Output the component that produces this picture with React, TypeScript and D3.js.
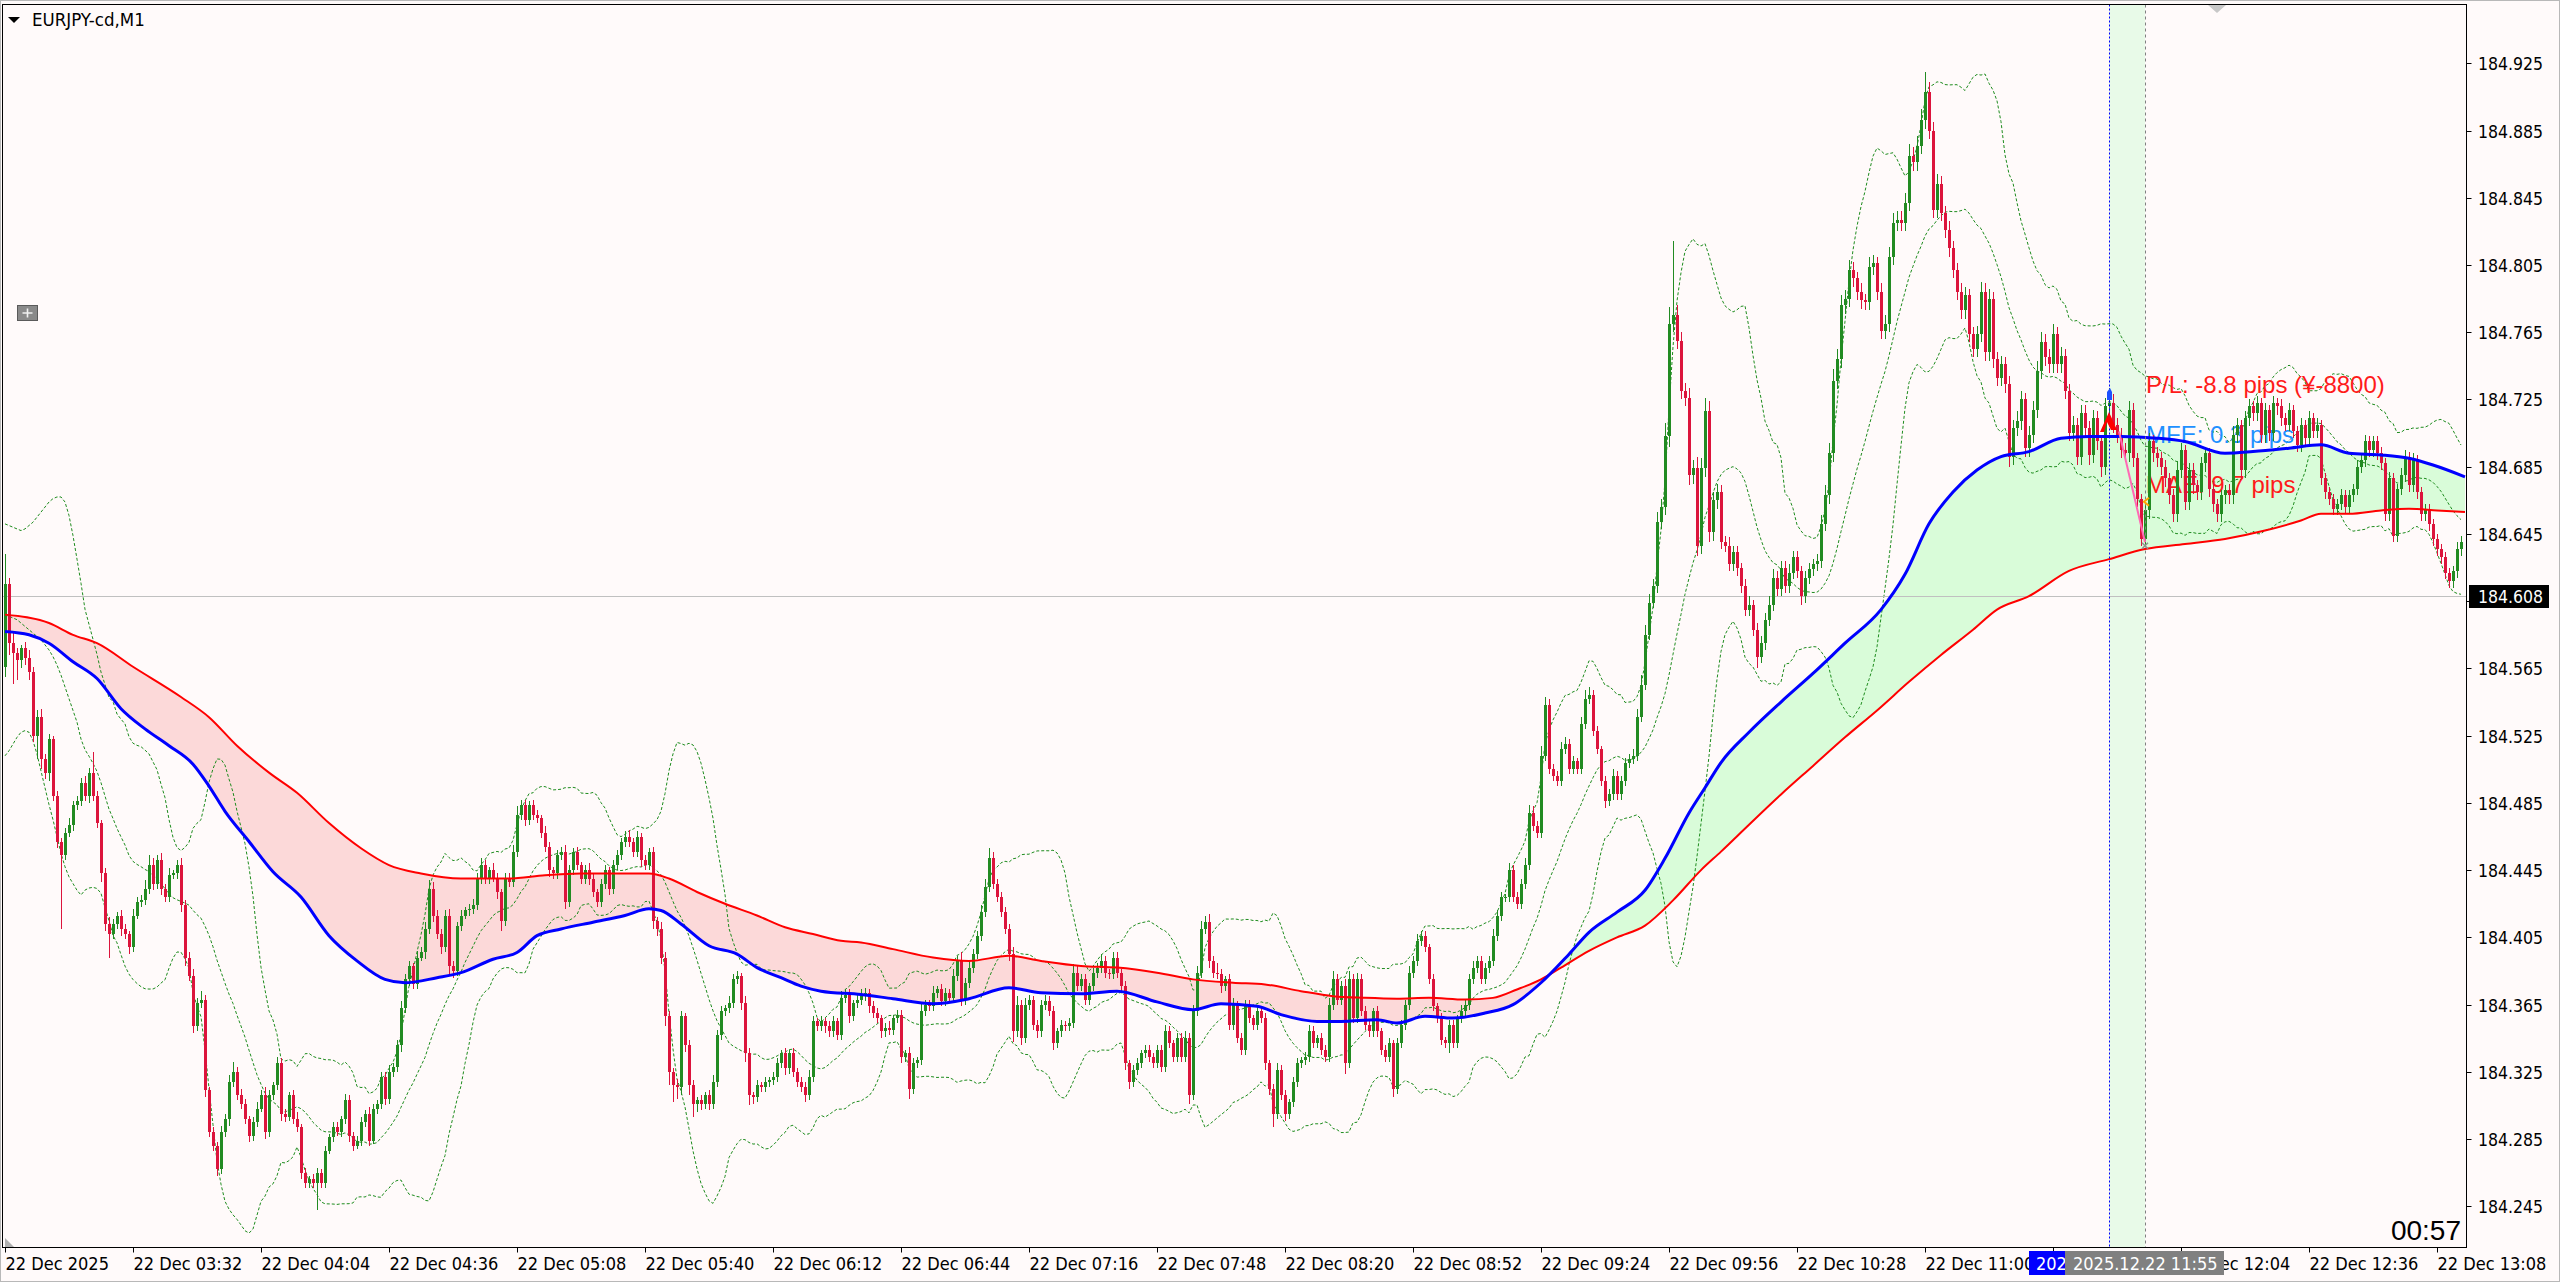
import React, { useEffect } from 'react';
import * as d3 from 'd3';

// ---------- DATA (prices in thousandths above 184.000) ----------
const BASE = 184;
const FIRST_OPEN = 566;
const closes = [
615,580,574,570,577,571,563,525,536,511,
503,523,489,462,454,467,472,484,486,497,
489,503,489,473,443,413,407,413,418,410,
407,399,418,426,427,434,448,437,451,434,
429,442,443,448,424,393,382,352,366,368,
314,289,281,267,289,297,319,325,311,306,
297,287,295,303,311,289,311,317,330,300,
298,311,297,292,265,259,261,259,265,259,
278,286,292,289,297,308,287,281,284,295,
300,284,303,306,322,309,325,328,341,363,
380,388,377,393,396,410,434,418,407,399,
418,388,385,412,418,421,422,424,440,448,
440,445,440,432,415,440,438,456,478,484,
475,484,478,476,467,459,445,443,454,456,
426,445,456,448,440,445,440,432,426,437,
445,434,448,454,462,465,462,456,465,451,
448,456,415,410,393,358,325,317,316,358,
341,317,306,308,306,311,306,319,347,361,
363,366,380,382,366,336,311,310,317,316,
319,320,322,330,336,327,336,325,319,316,
311,322,355,352,355,352,349,355,347,369,
371,358,366,368,370,372,364,360,357,349,
351,350,357,359,334,336,315,330,332,361,
365,364,372,374,367,372,369,382,391,368,
378,387,395,406,420,435,452,437,429,420,
410,395,349,365,345,365,368,353,349,365,
367,361,342,349,353,352,354,384,376,380,
368,376,384,387,391,384,383,393,384,376,
330,319,326,330,336,338,334,330,338,328,
349,342,334,345,334,345,311,361,384,410,
414,391,384,383,376,380,353,365,345,338,
365,357,353,361,357,330,315,300,326,311,
300,307,319,330,332,334,349,342,345,338,
334,365,380,368,376,330,380,357,380,361,
353,349,361,349,338,334,342,315,342,353,
365,384,391,403,406,399,380,364,357,344,
342,353,342,357,361,365,380,387,391,380,
387,391,406,418,429,429,445,429,425,437,
448,479,471,467,513,543,505,501,498,517,
520,505,510,505,532,547,549,528,517,498,
486,490,501,490,498,509,511,513,536,555,
585,604,614,652,661,703,770,775,760,730,
726,680,684,638,684,718,646,665,670,640,
638,627,634,625,614,600,603,588,572,580,
594,603,619,612,625,614,622,631,623,608,
619,624,627,629,651,668,693,736,749,781,
785,802,797,789,784,783,804,806,789,766,
770,810,830,832,830,842,870,866,876,891,
908,885,838,853,836,826,815,802,789,778,
787,764,755,764,789,753,785,749,738,746,
734,691,708,712,725,696,704,719,742,759,
750,746,764,746,751,730,705,710,691,717,
708,692,714,700,685,721,723,710,704,695,
693,719,690,666,642,659,700,693,690,685,
678,668,657,683,695,664,683,674,670,687,
693,672,663,657,668,671,668,704,710,683,
714,721,717,723,704,719,705,723,721,714,
710,719,706,698,710,702,714,706,710,678,
670,666,660,663,668,661,668,672,685,689,
700,695,700,693,687,657,678,644,672,680,
691,674,689,670,657,660,651,642,636,631,
622,617,623,636,640
];
const wickUp = [
18,4,6,3,2,4,5,3,4,5, 3,3,2,3,2,3,4,2,3,3, 4,3,12,3,2,3,4,3,2,3, 3,2,4,3,3,5,6,4,3,4,
3,4,2,3,4,3,3,4,3,5, 3,2,3,2,4,3,4,6,3,4, 3,2,3,4,3,5,3,2,4,3, 3,2,3,4,2,3,2,3,3,2,
3,2,3,3,2,4,3,2,3,3, 2,4,3,2,3,3,4,2,3,4, 3,3,2,4,3,4,5,4,3,3, 3,4,3,2,3,2,3,4,3,4,
3,2,4,3,2,3,3,4,5,3, 3,2,3,3,2,4,3,2,3,3, 4,3,2,3,2,3,4,3,2,3, 3,2,3,3,2,3,4,2,3,2,
3,2,3,2,4,3,3,2,4,3, 2,3,3,2,3,2,3,4,3,3, 2,4,3,3,2,4,3,2,3,2, 3,2,3,3,2,3,2,3,2,3,
3,4,3,2,3,2,3,3,2,4, 3,3,2,3,4,3,2,3,3,2, 3,4,2,3,3,2,4,3,2,5, 3,3,4,2,3,3,2,4,3,5,
3,4,3,3,4,5,6,4,3,3, 3,3,4,5,3,4,3,2,3,3, 4,3,3,2,3,2,3,5,4,3, 3,2,3,3,4,3,2,3,3,2,
3,2,3,3,2,3,3,2,3,3, 4,3,2,3,3,4,3,4,4,5, 4,5,3,6,3,2,3,4,2,3, 3,3,2,3,2,3,2,3,4,3,
3,2,3,3,2,3,4,3,2,3, 3,4,5,3,3,4,5,3,4,3, 3,3,2,3,2,3,3,2,3,3, 3,4,3,4,3,3,2,3,2,3,
2,3,3,2,4,3,3,4,3,3, 3,3,4,3,3,2,4,3,3,3, 4,5,4,3,6,5,4,3,3,4, 4,3,3,2,4,5,5,3,3,2,
3,3,4,3,3,3,3,4,5,6, 6,5,4,6,5,8,10,44,6,5, 5,6,5,7,6,8,6,5,5,4, 4,5,4,4,3,4,5,3,4,4,
4,5,5,4,4,4,5,4,4,3, 4,4,3,4,5,6,6,7,6,6, 5,6,5,4,5,4,6,5,4,5, 5,6,6,5,5,6,7,5,6,7,
12,6,5,6,5,4,5,4,4,5, 5,4,4,5,6,5,6,4,4,5, 4,5,5,6,5,4,5,5,6,6, 5,5,6,4,5,4,4,5,4,5,
5,4,5,4,4,5,9,5,4,4, 4,5,4,3,3,4,5,4,4,4, 4,3,4,5,4,3,4,4,3,4, 4,3,4,3,3,3,4,5,4,3,
4,4,3,4,3,4,3,4,3,4, 3,4,3,3,4,3,4,3,4,3, 3,3,3,3,4,3,3,3,4,3, 4,3,3,3,4,3,4,3,3,4,
4,3,4,3,3,3,3,3,3,3, 3,3,3,4,4
];
const wickDn = [
6,7,18,12,5,4,5,4,14,6, 4,5,3,4,44,3,2,4,3,3, 3,4,3,3,5,4,14,3,3,4, 3,4,3,2,3,3,3,4,3,4,
3,3,2,3,4,5,3,4,3,3, 4,3,3,4,3,3,4,3,3,3, 3,4,3,3,2,4,3,3,3,4, 3,2,3,3,4,3,3,3,16,3,
3,2,3,2,3,3,4,3,2,3, 3,3,2,3,3,4,3,3,3,4, 3,4,3,3,2,4,3,4,3,4, 3,5,4,3,3,2,3,3,3,3,
3,3,2,4,6,3,3,3,3,3, 4,3,3,3,3,3,4,3,3,3, 4,3,3,3,3,3,4,3,3,3, 3,4,3,3,3,3,3,3,3,4,
3,3,5,4,4,6,8,10,7,5, 4,6,8,5,4,3,4,3,3,3, 3,3,3,3,4,5,6,4,3,3, 3,3,3,3,3,4,3,3,3,3,
4,3,3,3,3,4,3,3,3,3, 3,4,3,3,3,3,4,3,3,4, 3,3,3,3,4,3,6,3,3,3, 3,3,3,3,3,3,3,3,3,4,
3,3,3,3,3,3,3,3,3,3, 3,4,6,3,4,3,3,3,4,3, 3,3,4,3,3,3,3,3,3,3, 3,3,3,3,3,3,3,3,3,3,
4,4,3,3,3,3,3,3,3,3, 3,3,3,3,3,3,5,3,3,3, 3,4,3,3,4,3,3,3,3,3, 3,3,3,3,3,4,4,8,3,3,
4,3,3,3,3,3,3,3,3,3, 3,3,3,3,3,6,3,3,3,3, 3,3,3,3,3,3,3,5,3,3, 3,3,3,3,3,3,3,3,3,3,
3,6,3,3,3,3,3,3,3,3, 3,3,3,3,3,3,3,3,3,3, 3,3,3,3,3,3,3,3,3,3, 3,3,3,3,3,3,3,3,3,3,
4,3,3,3,3,3,3,3,3,3, 3,3,3,4,4,5,6,5,5,5, 5,6,5,6,5,5,6,5,5,4, 4,4,4,5,4,4,4,4,7,4,
4,4,4,4,4,4,4,4,4,5, 4,4,4,4,4,4,5,5,5,5, 5,5,5,5,5,5,5,5,5,5, 5,5,5,5,5,5,5,5,5,5,
5,5,5,5,5,5,5,5,5,5, 5,5,5,5,5,5,5,5,5,5, 5,6,5,5,5,5,5,5,5,5, 5,5,5,5,5,5,5,5,5,5,
5,6,5,5,6,5,5,5,5,5, 5,5,5,5,4,5,5,5,5,5, 5,5,5,5,5,5,5,5,5,5, 5,5,5,5,5,5,5,5,5,5,
5,5,5,5,5,5,5,5,5,5, 4,4,4,4,4,4,4,4,4,4, 4,4,4,4,4,4,4,4,4,4, 4,4,4,4,4,4,4,4,4,4,
4,4,4,4,4,4,4,4,4,4, 4,4,4,4,4
];

// moving averages, read as [candle index, value]
const blueMA: [number, number][] = [
[0,587],[6,585],[11,580],[17,569],[23,559],[29,541],[35,529],[41,519],[47,508],[51,495],[55,480],
[61,462],[67,444],[74,429],[81,406],[88,391],[95,380],[100,378],[108,381],[114,384],[122,392],
[128,396],[133,406],[139,410],[147,414],[155,418],[161,422],[164,421],[169,413],[176,400],[183,395],
[188,387],[194,381],[199,376],[204,373],[214,371],[222,368.5],[232,365.5],[241,368.5],[251,375],
[259,372],[269,371.5],[278,373],[288,366.6],[297,362],[304,365.5],[313,364],[319,359],[328,355],
[334,355],[343,356],[348,354],[355,358],[362,357],[370,360],[377,365],[384,378],[391,395],[396,408],
[403,420],[410,433],[415,452],[421,479],[425,494],[429,509],[436,527],[444,545],[452,562],[460,580],
[469,600],[475,621],[481,651],[487,670],[493,683],[499,691],[506,694],[514,702],[521,703],[529,703],
[538,702],[545,700],[555,693],[562,694],[571,696],[579,698],[586,693],[594,692],[601,690],[607,686],[615,679]
];
const redMA: [number, number][] = [
[0,597],[11,592],[17,585],[23,580],[32,566],[44,548],[51,536],[58,519],[66,503],[73,491],[81,473],
[89,458],[96,448],[104,443],[114,440],[126,440],[135,442],[144,443],[152,443],[161,443],[166,440],
[173,432],[180,425],[188,418],[195,411],[202,407],[209,403],[214,402],[222,398],[232,393],[241,391],
[251,394],[259,391],[269,388],[278,387],[288,384],[297,380],[307,378],[315,377],[324,373],[332,370],
[340,369],[348,368.5],[356,369],[365,368],[372,369],[378,374],[384,380],[389,387],[396,397],[403,405],
[410,412],[417,427],[424,445],[429,456],[436,472],[444,490],[452,507],[460,524],[468,540],[476,557],
[484,573],[492,588],[498,600],[506,608],[516,623],[526,630],[535,636],[545,639],[555,642],[565,647],
[574,653],[579,657],[586,657],[594,659],[601,660],[608,659],[615,658]
];

// Bollinger band values of the first 19 bars (earlier history not on screen)
const bbLeadUpper = [651,650,649,648,647,648,650,652,655,658,661,664,666,667,667,664,656,644,630];
const bbLeadMid = [597,596,595,594,592,590,588,586,584,582,579,576,572,567,561,554,547,540,533];
const bbLeadLower = [513,516,520,524,527,528,527,522,514,504,494,484,475,465,455,447,441,437,433];
const BB_PERIOD = 20;
const BB_DEV = 2;

const priceTicks = [184.925,184.885,184.845,184.805,184.765,184.725,184.685,184.645,184.605,
  184.565,184.525,184.485,184.445,184.405,184.365,184.325,184.285,184.245];
const timeLabels = ['22 Dec 2025','22 Dec 03:32','22 Dec 04:04','22 Dec 04:36','22 Dec 05:08',
  '22 Dec 05:40','22 Dec 06:12','22 Dec 06:44','22 Dec 07:16','22 Dec 07:48','22 Dec 08:20',
  '22 Dec 08:52','22 Dec 09:24','22 Dec 09:56','22 Dec 10:28','22 Dec 11:00','22 Dec 11:32',
  '22 Dec 12:04','22 Dec 12:36','22 Dec 13:08'];
const TIME_STEP = 32;
const CURRENT_PRICE = 184.608;
const TRADE_OPEN_IDX = 526;
const TRADE_CLOSE_IDX = 535;
const TRADE_OPEN_LABEL = '2025.12.22 11:46';
const TRADE_CLOSE_LABEL = '2025.12.22 11:55';
const ENTRY_PRICE = 184.727;
const maeLine: [number, number][] = [[528.5, 184.706], [535, 184.640]];
const MAE_PRICE = 184.638;
const tradeTexts = [
  { text: 'P/L: -8.8 pips (¥-8800)', color: '#ff1a1a' },
  { text: 'MFE: 0.3 pips', color: '#1e90ff' },
  { text: 'MAE: 9.7 pips', color: '#ff1a1a' },
];
const SYMBOL = 'EURJPY-cd,M1';
const TIMER = '00:57';

// ---------- LAYOUT ----------
const W = 2560, H = 1282;
const PL = 2.5, PT = 4.5, PR = 2466.5, PB = 1247.5;
const AXIS_FONT = "'DejaVu Sans Condensed','DejaVu Sans',sans-serif";
const TEXT_FONT = "'Liberation Sans',Arial,sans-serif";
const BULL = '#228b22', BEAR = '#dc143c';

export default function App() {
  useEffect(() => {
    document.body.style.margin = '0';
    document.body.style.overflow = 'hidden';
  }, []);

  const n = closes.length;
  const x = d3.scaleLinear().domain([0, n - 1]).range([5, 5 + 4 * (n - 1)]);
  const y = d3.scaleLinear().domain([184.245, 184.925]).range([1206.3, 63.3]);
  const py = (v: number) => y(BASE + v / 1000);

  const candles = closes.map((c, i) => {
    const o = i === 0 ? FIRST_OPEN : closes[i - 1];
    const hi = Math.max(o, c) + wickUp[i];
    const lo = Math.min(o, c) - wickDn[i];
    return { i, o, c, hi, lo };
  });

  const bb = closes.map((_, i) => {
    if (i < BB_PERIOD - 1) return { u: bbLeadUpper[i], m: bbLeadMid[i], l: bbLeadLower[i] };
    const w = closes.slice(i - BB_PERIOD + 1, i + 1);
    const m = d3.mean(w) as number;
    const sd = Math.sqrt(d3.mean(w, (v) => (v - m) * (v - m)) as number);
    return { u: m + BB_DEV * sd, m, l: m - BB_DEV * sd };
  });
  const bbLine = (key: 'u' | 'm' | 'l') =>
    d3.line<{ u: number; m: number; l: number }>().x((_, i) => x(i)).y((d) => py(d[key]))(bb) as string;

  const maLine = d3.line<[number, number]>().x((d) => x(d[0])).y((d) => py(d[1])).curve(d3.curveMonotoneX);
  const bluePath = maLine(blueMA) as string;
  const redPath = maLine(redMA) as string;
  const redRev = maLine([...redMA].reverse()) as string;
  const bandPath = bluePath + 'L' + redRev.slice(1) + 'Z';
  const xb0 = x(blueMA[0][0]), xb1 = x(blueMA[blueMA.length - 1][0]);
  const aboveBlue = bluePath + `L${xb1},0L${xb0},0Z`;
  const belowBlue = bluePath + `L${xb1},${H}L${xb0},${H}Z`;

  const xo = x(TRADE_OPEN_IDX), xc = x(TRADE_CLOSE_IDX);
  const yCur = Math.round(y(CURRENT_PRICE)) + 0.5;
  const boxL = xo - 80, boxR = xc + 80;

  return (
    <svg width={W} height={H} style={{ position: 'absolute', left: 0, top: 0, background: '#fffafa' }}
      xmlns="http://www.w3.org/2000/svg">
      <defs>
        <clipPath id="plot"><rect x={PL + 0.5} y={PT + 0.5} width={PR - PL - 1} height={PB - PT - 1} /></clipPath>
        <clipPath id="above"><path d={aboveBlue} /></clipPath>
        <clipPath id="below"><path d={belowBlue} /></clipPath>
      </defs>
      <rect x={0} y={0} width={W} height={H} fill="#fffafa" />
      <rect x={0.5} y={0.5} width={W - 1} height={H - 1} fill="none" stroke="#b8b8b8" />

      <g clipPath="url(#plot)">
        {/* trade period band */}
        <rect x={xo} y={PT} width={xc - xo} height={PB - PT} fill="#e8fae8" />
        {/* MA cloud */}
        <g clipPath="url(#above)"><path d={bandPath} fill="#fcd9d9" /></g>
        <g clipPath="url(#below)"><path d={bandPath} fill="#d9fcd9" /></g>
        {/* Bollinger bands */}
        {(['u', 'm', 'l'] as const).map((k) => (
          <path key={k} d={bbLine(k)} fill="none" stroke="#1e8c1e" strokeWidth={1} strokeDasharray="3,2" />
        ))}
        {/* bid line */}
        <line x1={PL} x2={PR} y1={yCur} y2={yCur} stroke="#c0c0c0" strokeWidth={1} />
        {/* trade texts */}
        {tradeTexts.map((t, k) => (
          <text key={k} x={xc + 1} y={393 + 50 * k} fill={t.color} fontFamily={TEXT_FONT} fontSize={24}>{t.text}</text>
        ))}
        {/* candles */}
        <g shapeRendering="crispEdges">
          {candles.map((d) => {
            const cx = Math.round(x(d.i));
            const col = d.c >= d.o ? BULL : BEAR;
            const yt = py(Math.max(d.o, d.c)), yb = py(Math.min(d.o, d.c));
            return (
              <g key={d.i}>
                <line x1={cx + 0.5} x2={cx + 0.5} y1={py(d.hi)} y2={py(d.lo)} stroke={col} strokeWidth={1} />
                <rect x={cx - 1} y={yt} width={3} height={Math.max(1, yb - yt)} fill={col} />
              </g>
            );
          })}
        </g>
        {/* moving averages */}
        <path d={redPath} fill="none" stroke="#ff0000" strokeWidth={2} />
        <path d={bluePath} fill="none" stroke="#0000ff" strokeWidth={3} />
        {/* trade verticals */}
        <line x1={Math.round(xo) + 0.5} x2={Math.round(xo) + 0.5} y1={PT} y2={PB} stroke="#0000ff" strokeDasharray="2,2" />
        <line x1={Math.round(xc) + 0.5} x2={Math.round(xc) + 0.5} y1={PT} y2={PB} stroke="#808080" strokeDasharray="3,3" />
        {/* MAE line */}
        <line x1={x(maeLine[0][0])} y1={y(maeLine[0][1])} x2={x(maeLine[1][0])} y2={y(maeLine[1][1])}
          stroke="#ff69b4" strokeWidth={2} />
        {/* entry arrow */}
        <g transform={`translate(${xo},${y(ENTRY_PRICE)})`}>
          <path d="M-2,4 L-2,-4 L1,-8 L3,-4 L3,4 Z" fill="#1e50ff" />
          <path d="M-9,36 L-5,36 L-2,26 L2,34 L8,34 L0,16 Z" fill="#ff0000" />
        </g>
        {/* MAE markers */}
        <path d={`M${xc + 4},${y(MAE_PRICE) - 48} l-5,4 l5,4`} fill="none" stroke="#ffa500" strokeWidth={2} />
        <path d={`M${xc - 3},${y(MAE_PRICE) - 3} l6,6 M${xc + 3},${y(MAE_PRICE) - 3} l-6,6`} stroke="#909090" strokeWidth={1.5} />
        {/* timer */}
        <text x={2461} y={1240} textAnchor="end" fontFamily={TEXT_FONT} fontSize={28} fill="#000">{TIMER}</text>
      </g>

      {/* plot frame */}
      <rect x={PL} y={PT} width={PR - PL} height={PB - PT} fill="none" stroke="#000" strokeWidth={1} />

      {/* title */}
      <path d="M8,17 L20,17 L14,23 Z" fill="#000" />
      <text x={32} y={26} fontFamily={AXIS_FONT} fontStretch="condensed" fontSize={18.5} fill="#000">{SYMBOL}</text>
      {/* plus button */}
      <rect x={17.5} y={305.5} width={20} height={15} fill="#8a8a8a" stroke="#5a5a5a" />
      <path d="M22.5,313 h10 M27.5,308.5 v9" stroke="#f0f0f0" strokeWidth={1.6} />
      {/* shift markers */}
      <path d="M2208,5 L2226,5 L2217,13 Z" fill="#c8c8c8" />
      <path d="M5,1238 L5,1247 L14,1247 Z" fill="#b0b0b0" />

      {/* right price axis */}
      <g fontFamily={AXIS_FONT} fontStretch="condensed" fontSize={17.5} fill="#000">
        {priceTicks.map((p) => {
          const yy = Math.round(y(p)) + 0.5;
          return (
            <g key={p}>
              <line x1={PR} x2={PR + 5} y1={yy} y2={yy} stroke="#000" />
              <text x={2478} y={yy + 6}>{p.toFixed(3)}</text>
            </g>
          );
        })}
        <rect x={2469} y={yCur - 11.5} width={80} height={23} fill="#000" />
        <text x={2478} y={yCur + 6} fill="#fff">{CURRENT_PRICE.toFixed(3)}</text>
      </g>

      {/* bottom time axis */}
      <g fontFamily={AXIS_FONT} fontStretch="condensed" fontSize={18} fill="#000">
        {timeLabels.map((t, k) => {
          const xx = Math.round(x(k * TIME_STEP)) + 0.5;
          const hidden = xx > boxL && xx < boxR - 60;
          return (
            <g key={t}>
              <line x1={xx} x2={xx} y1={PB} y2={PB + 5} stroke="#000" />
              {!hidden && <text x={xx} y={1270}>{t}</text>}
            </g>
          );
        })}
        <rect x={boxL} y={1251} width={160} height={24} fill="#0000ff" />
        <text x={xo - 73} y={1270} fill="#fff">{TRADE_OPEN_LABEL.slice(0, 3)}</text>
        <rect x={xc - 80} y={1251} width={159} height={24} fill="#808080" />
        <text x={xc - 72} y={1270} fill="#fff">{TRADE_CLOSE_LABEL}</text>
      </g>
    </svg>
  );
}
